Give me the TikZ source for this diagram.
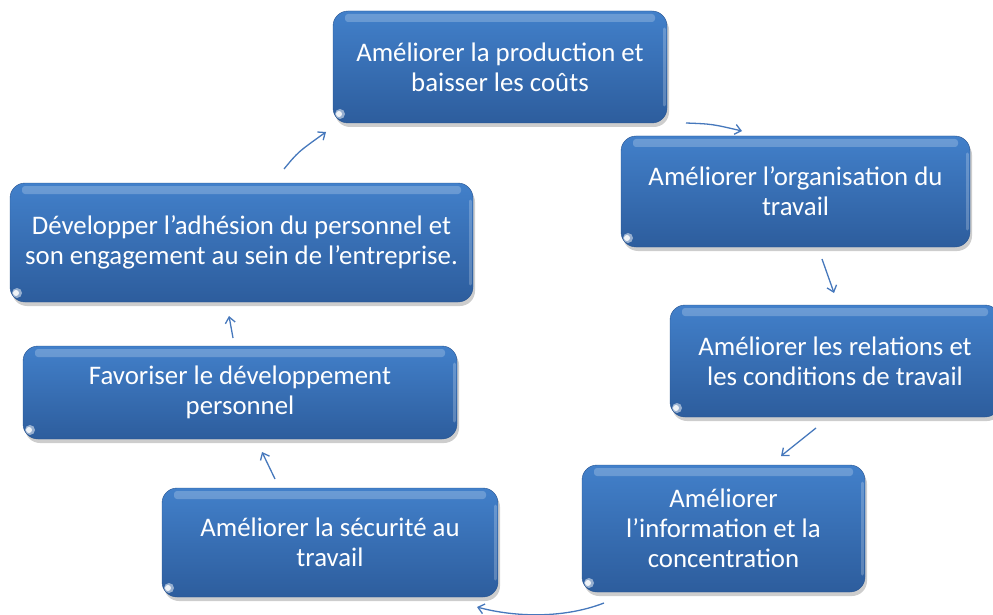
\documentclass[tikz,border=0pt]{standalone}
\usepackage{fontspec}
\setmainfont{Carlito}
\usetikzlibrary{arrows.meta,shadows}

\definecolor{boxtop}{RGB}{66,128,202}
\definecolor{boxbot}{RGB}{45,93,157}
\definecolor{boxedge}{RGB}{40,84,145}
\definecolor{arrowblue}{RGB}{70,120,188}

\tikzset{
  stepbox/.style={
    rounded corners=15pt, top color=boxtop, bottom color=boxbot,
    draw=boxedge, line width=0.4pt, text=white, align=center,
    font=\fontsize{26.8}{30}\selectfont, inner sep=0pt,
    drop shadow={shadow xshift=2pt, shadow yshift=-4pt, opacity=0.28, fill=black!70},
    path picture={
      % glossy band along the top edge
      \fill[white, opacity=0.22, rounded corners=3pt]
        ([xshift=12pt, yshift=-3pt]path picture bounding box.north west) rectangle
        ([xshift=-12pt, yshift=-11pt]path picture bounding box.north east);
      % light rim along the right edge
      \draw[white, opacity=0.22, line width=3pt, line cap=round]
        ([xshift=-3pt, yshift=-18pt]path picture bounding box.north east) --
        ([xshift=-3pt, yshift=18pt]path picture bounding box.south east);
      % small glint in the lower left corner
      \fill[white, opacity=0.5]
        ([xshift=7pt, yshift=9pt]path picture bounding box.south west) circle (5pt);
      \fill[white, opacity=0.85]
        ([xshift=6pt, yshift=9pt]path picture bounding box.south west) circle (3pt);
    }
  },
  flow/.style={draw=arrowblue, line width=1.3pt,
    -{Straight Barb[length=6pt, width=10pt]}}
}

\begin{document}
\begin{tikzpicture}[x=1pt, y=-1pt]
  \useasboundingbox (0,0) rectangle (993,615);
  \clip (0,0) rectangle (993,615);

  % the seven steps of the cycle
  \node[stepbox, minimum width=334pt, minimum height=112pt] (prod) at (500,67)
    {Améliorer la production et\\baisser les coûts};
  \node[stepbox, minimum width=349pt, minimum height=111pt] (org) at (795.5,191.5)
    {Améliorer l’organisation du\\travail};
  \node[stepbox, minimum width=330pt, minimum height=112pt] (rel) at (835,361)
    {Améliorer les relations et\\les conditions de travail};
  \node[stepbox, minimum width=283pt, minimum height=127pt] (info) at (723.5,528.5)
    {Améliorer\\l’information et la\\concentration};
  \node[stepbox, minimum width=336pt, minimum height=109pt] (secu) at (330,542.5)
    {Améliorer la sécurité au\\travail};
  \node[stepbox, minimum width=434pt, minimum height=93pt] (devp) at (240,392.5)
    {Favoriser le développement\\personnel};
  \node[stepbox, minimum width=463pt, minimum height=119pt] (adh) at (241.5,242.5)
    {Développer l’adhésion du personnel et\\son engagement au sein de l’entreprise.};

  % loose ends of the connectors, set in the gaps between the steps
  \coordinate (a1s) at (686,123);  \coordinate (a1e) at (742,131);
  \coordinate (a2s) at (822,259);  \coordinate (a2e) at (834,293);
  \coordinate (a3s) at (816,428);  \coordinate (a3e) at (781,456);
  \coordinate (a4s) at (604,603);  \coordinate (a4e) at (477,607);
  \coordinate (a5s) at (275,479);  \coordinate (a5e) at (262,452);
  \coordinate (a6s) at (233,338);  \coordinate (a6e) at (229,316);
  \coordinate (a7s) at (284,169);  \coordinate (a7e) at (326,132);

  % connectors running clockwise round the cycle
  \draw[flow] (a1s) .. controls (712,124) .. (a1e);
  \draw[flow] (a2s) .. controls (828,275) .. (a2e);
  \draw[flow] (a3s) -- (a3e);
  \draw[flow] (a4s) .. controls (560,620) and (510,616) .. (a4e);
  \draw[flow] (a5s) -- (a5e);
  \draw[flow] (a6s) -- (a6e);
  \draw[flow] (a7s) .. controls (298,152) .. (a7e);
\end{tikzpicture}
\end{document}
